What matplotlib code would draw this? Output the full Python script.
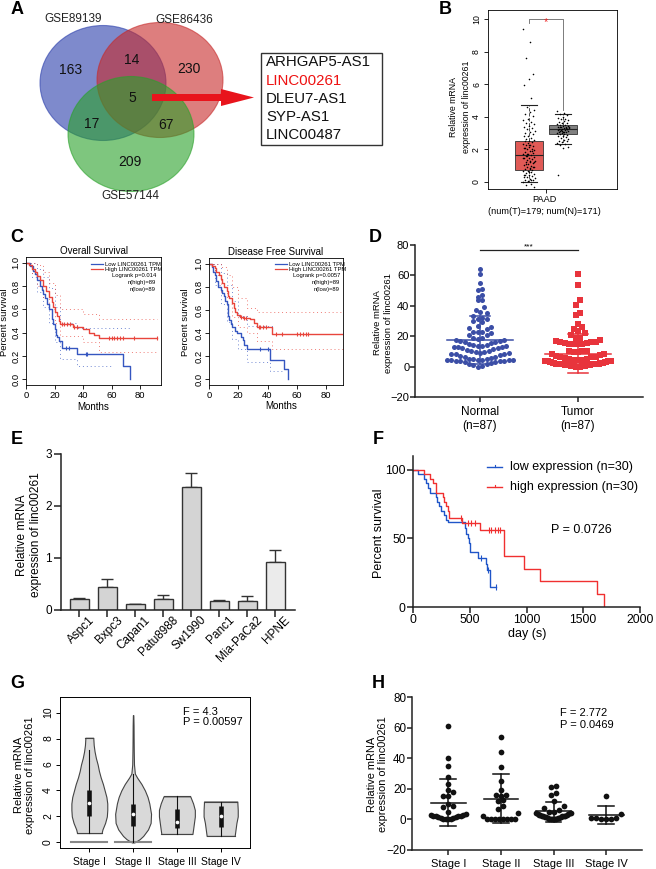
import numpy as np
import matplotlib
matplotlib.use('Agg')
import matplotlib.pyplot as plt
from matplotlib.patches import Ellipse, Rectangle, FancyArrow
from matplotlib.transforms import ScaledTranslation

plt.rcParams['font.family'] = ['Liberation Sans', 'DejaVu Sans']

# ======================= DATA =======================
# A: Venn
venn_names = ['GSE89139', 'GSE86436', 'GSE57144']
venn_regions = ['only89139', '89139&86436', 'only86436', 'all', '89139&57144', '86436&57144', 'only57144']
venn_counts = [163, 14, 230, 5, 17, 67, 209]
common_genes = ['ARHGAP5-AS1', 'LINC00261', 'DLEU7-AS1', 'SYP-AS1', 'LINC00487']
highlight_gene = 'LINC00261'

# B: GEPIA box plot
b_groups = ['Tumor', 'Normal']
b_q1 = [0.75, 2.95]
b_med = [1.67, 3.25]
b_q3 = [2.5, 3.48]
b_whislo = [0.0, 2.32]
b_whishi = [4.75, 4.15]
b_tumor_pts = [9.4, 8.6, 7.65, 6.65, 6.35, 5.95, 5.15, 4.6, 4.45, 4.3, 4.2, 4.05, 3.9, 3.8, 3.7,
               3.6, 3.55, 3.45, 3.4, 3.3, 3.25, 3.15, 3.1, 3.0, 2.95, 2.85, 2.8, 2.7, 2.65, 2.6,
               2.55, 2.5, 2.45, 2.4, 2.35, 2.3, 2.25, 2.2, 2.15, 2.1, 2.05, 2.0, 1.95, 1.9, 1.85,
               1.8, 1.75, 1.7, 1.65, 1.6, 1.55, 1.5, 1.45, 1.4, 1.35, 1.3, 1.25, 1.2, 1.15, 1.1,
               1.05, 1.0, 0.95, 0.9, 0.85, 0.8, 0.75, 0.7, 0.65, 0.6, 0.55, 0.5, 0.45, 0.4, 0.35,
               0.3, 0.25, 0.2, 0.15, 0.1, 0.05, 0.0, -0.1, -0.2, -0.3, 2.3, 2.1, 1.9, 1.7, 1.5,
               1.3, 1.1, 0.9, 0.6, 0.3, 0.1, 1.6, 1.2, 0.8, 0.4]
b_normal_pts = [4.35, 4.25, 4.15, 4.1, 4.0, 3.95, 3.9, 3.85, 3.8, 3.75, 3.7, 3.65, 3.6, 3.55,
                3.5, 3.48, 3.45, 3.42, 3.4, 3.37, 3.35, 3.32, 3.3, 3.28, 3.25, 3.23, 3.2, 3.18,
                3.15, 3.12, 3.1, 3.07, 3.05, 3.02, 3.0, 2.97, 2.95, 2.9, 2.85, 2.8, 2.75, 2.7,
                2.65, 2.6, 2.55, 2.5, 2.45, 2.4, 2.35, 2.3, 2.15, 2.1, 0.4, 3.3, 3.2, 3.4, 3.1,
                3.35, 3.25, 3.15]
b_sig = '*'

# C: GEPIA Kaplan-Meier (OS and DFS)
os_low_t = [0, 3, 5, 6, 8, 10, 11, 12, 13, 15, 16, 18, 19, 20, 21, 22, 23, 25, 36, 68, 73]
os_low_s = [1.0, 0.97, 0.93, 0.9, 0.85, 0.8, 0.77, 0.73, 0.7, 0.65, 0.6, 0.52, 0.47, 0.43, 0.38, 0.36, 0.33, 0.27, 0.22, 0.11, 0.0]
os_low_cens_t = [28, 30, 42, 43]
os_low_cens_s = [0.27, 0.27, 0.22, 0.22]
os_high_t = [0, 2, 4, 6, 8, 10, 12, 14, 16, 18, 19, 20, 22, 23, 24, 33, 40, 44, 48, 51]
os_high_s = [1.0, 0.98, 0.95, 0.92, 0.89, 0.85, 0.8, 0.76, 0.71, 0.66, 0.62, 0.58, 0.54, 0.5, 0.47, 0.45, 0.43, 0.40, 0.38, 0.35]
os_high_end = 92
os_high_cens_t = [25, 27, 29, 31, 34, 36, 58, 60, 62, 64, 66, 68, 76, 92]
os_high_cens_s = [0.47, 0.47, 0.47, 0.47, 0.45, 0.45, 0.35, 0.35, 0.35, 0.35, 0.35, 0.35, 0.35, 0.35]
os_low_up_t = [0, 4, 8, 12, 16, 20, 24, 36]
os_low_up_s = [1.0, 1.0, 0.95, 0.88, 0.78, 0.62, 0.48, 0.44]
os_low_up_end = 73
os_low_lo_t = [0, 4, 8, 12, 16, 20, 24, 36]
os_low_lo_s = [1.0, 0.88, 0.75, 0.62, 0.48, 0.32, 0.17, 0.11]
os_low_lo_end = 60
os_high_up_t = [0, 4, 8, 12, 16, 20, 24, 40, 51]
os_high_up_s = [1.0, 1.0, 0.98, 0.92, 0.83, 0.72, 0.6, 0.56, 0.52]
os_high_lo_t = [0, 4, 8, 12, 16, 20, 24, 40, 51]
os_high_lo_s = [1.0, 0.9, 0.8, 0.7, 0.6, 0.48, 0.37, 0.32, 0.23]
os_legend = ['Low LINC00261 TPM', 'High LINC00261 TPM']
os_stats = ['Logrank p=0.014', 'n(high)=89', 'n(low)=89']

dfs_low_t = [0, 2, 3, 4, 5, 6, 8, 9, 10, 11, 12, 13, 14, 15, 16, 18, 19, 22, 23, 24, 26, 42, 51, 54]
dfs_low_s = [1.0, 0.97, 0.93, 0.9, 0.85, 0.8, 0.77, 0.75, 0.72, 0.68, 0.65, 0.55, 0.51, 0.48, 0.45, 0.42, 0.40, 0.37, 0.34, 0.30, 0.26, 0.17, 0.085, 0.0]
dfs_low_cens_t = [35, 40]
dfs_low_cens_s = [0.26, 0.26]
dfs_high_t = [0, 2, 4, 5, 7, 8, 9, 10, 12, 13, 14, 16, 17, 18, 19, 21, 23, 28, 31, 33, 43]
dfs_high_s = [1.0, 0.98, 0.96, 0.93, 0.9, 0.87, 0.83, 0.8, 0.76, 0.72, 0.7, 0.66, 0.62, 0.58, 0.56, 0.54, 0.53, 0.52, 0.49, 0.45, 0.39]
dfs_high_end = 92
dfs_high_cens_t = [22, 24, 25, 34, 35, 37, 39, 46, 50, 60, 62, 64, 66, 68, 92]
dfs_high_cens_s = [0.54, 0.53, 0.53, 0.45, 0.45, 0.45, 0.45, 0.39, 0.39, 0.39, 0.39, 0.39, 0.39, 0.39, 0.39]
dfs_low_up_t = [0, 4, 8, 12, 16, 20, 26, 42]
dfs_low_up_s = [1.0, 1.0, 0.92, 0.82, 0.68, 0.55, 0.46, 0.46]
dfs_low_up_end = 45
dfs_low_lo_t = [0, 4, 8, 12, 16, 20, 26, 42]
dfs_low_lo_s = [1.0, 0.82, 0.65, 0.5, 0.35, 0.26, 0.15, 0.07]
dfs_low_lo_end = 51
dfs_high_up_t = [0, 4, 8, 12, 16, 20, 26, 33]
dfs_high_up_s = [1.0, 1.0, 0.97, 0.9, 0.8, 0.7, 0.62, 0.58]
dfs_high_lo_t = [0, 4, 8, 12, 16, 20, 26, 33, 43]
dfs_high_lo_s = [1.0, 0.9, 0.75, 0.65, 0.54, 0.45, 0.4, 0.33, 0.26]
dfs_stats = ['Logrank p=0.0057', 'n(high)=89', 'n(low)=89']

# D: scatter Normal vs Tumor
d_groups = ['Normal\n(n=87)', 'Tumor\n(n=87)']
d_normal = [0, 0.5, 1, 1.5, 2, 2.5, 3, 3.2, 3.5, 3.7, 3.9, 4, 4.1, 4.2, 4.3, 4.4,
            4.5, 4.6, 4.8, 5, 5.2, 5.5, 6, 6.5, 7, 7.5, 8, 8.3, 8.6, 8.8,
            9, 9.3, 9.6, 10, 10.5, 11, 11.5, 12, 12.3, 12.6, 12.9, 13.1, 13.3,
            13.5, 13.8, 14, 14.5, 15, 15.5, 16, 16.5, 16.8, 17, 17.2, 17.5,
            18, 18.5, 19, 20.5, 21, 22, 22.5, 23, 23, 24.5, 25.5, 26, 27, 29.5, 30, 31, 31.5,
            32, 33, 35, 36, 37, 39, 43.5, 44, 46, 47, 50.5, 51, 55, 61, 64]
d_tumor = [61, 54, 44, 40.5, 35.5, 34, 28, 26, 25, 23.5, 22, 21, 19, 19, 17.5, 17, 16.5, 16, 16,
           15.5, 15.5, 15, 15, 15, 15, 10.5, 10, 10, 9.5, 9.5, 8.5, 8, 7.5, 7, 6.5, 6, 6, 5.5, 5, 5,
           4.5, 4.5, 4.5, 4, 4, 4, 3.5, 3.5, 3.5, 3, 3, 3, 3,
           2.5, 2.5, 2.5, 2.5, 2.5, 2, 2, 2, 2, 2, 2, 1.5, 1.5, 1.5, 1.5, 1.5, 1.5,
           1, 1, 1, 1, 1, 1, 1, 0.5, 0.5, 0.5, 0.5, 0.5, 0.5, 0, 0, 0, 0]
d_mean = [17.5, 8.5]
d_sd_hi = [33.4, 21.5]
d_sd_lo = [1.6, -4.5]
d_sig = '***'

# E: cell lines
e_cells = ['Aspc1', 'Bxpc3', 'Capan1', 'Patu8988', 'Sw1990', 'Panc1', 'Mia-PaCa2', 'HPNE']
e_vals = [0.21, 0.45, 0.11, 0.22, 2.37, 0.17, 0.17, 0.93]
e_err = [0.02, 0.15, 0.01, 0.07, 0.27, 0.02, 0.09, 0.22]

# F: KM (n=30 each)
f_low_t = [0, 45, 100, 118, 135, 150, 205, 215, 230, 250, 275, 295, 310, 455, 470, 485, 495, 505, 575, 640, 655, 675]
f_low_s = [100, 96.7, 93.3, 90, 86.7, 83.3, 80, 76.7, 73.3, 70, 66.7, 63.3, 61.7, 57.5, 53.5, 50, 46.7, 40, 35.5, 31, 26.7, 14.6]
f_low_end = 730
f_low_cens_t = [603, 662, 730]
f_low_cens_s = [35.5, 26.7, 14.6]
f_high_t = [0, 100, 150, 175, 200, 206, 265, 275, 290, 305, 320, 435, 588, 800, 976, 1118, 1624, 1682]
f_high_s = [100, 96.7, 93.3, 90, 86.7, 83.3, 80, 76.7, 73.3, 70, 64.8, 61, 55.8, 37.4, 27.9, 18.7, 9.3, 0]
f_high_cens_t = [426, 485, 515, 544, 670, 691, 720, 750, 770]
f_high_cens_s = [64.8, 61, 61, 61, 55.8, 55.8, 55.8, 55.8, 55.8]
f_legend = ['low expression (n=30)', 'high expression (n=30)']
f_p = 'P = 0.0726'

# G: violin by stage
g_stages = ['Stage I', 'Stage II', 'Stage III', 'Stage IV']
g_prof_y = [[0.72, 1.0, 1.5, 2.0, 2.5, 3.0, 3.5, 4.0, 4.5, 5.0, 5.5, 6.0, 6.5, 7.0, 7.5, 8.06],
            [0.0, 0.25, 0.5, 1.0, 1.5, 2.2, 3.0, 3.5, 4.0, 4.5, 4.8, 5.0, 5.3, 6.0, 7.0, 8.0, 9.0, 9.8],
            [0.65, 1.0, 1.5, 2.0, 2.5, 3.0, 3.55],
            [0.5, 1.0, 1.5, 2.0, 2.5, 3.15]]
g_prof_hw = [[0.28, 0.30, 0.36, 0.40, 0.41, 0.41, 0.39, 0.35, 0.31, 0.26, 0.22, 0.19, 0.15, 0.12, 0.10, 0.09],
             [0.03, 0.15, 0.23, 0.34, 0.40, 0.41, 0.37, 0.33, 0.27, 0.19, 0.13, 0.09, 0.04, 0.02, 0.015, 0.012, 0.01, 0.005],
             [0.355, 0.37, 0.39, 0.41, 0.41, 0.37, 0.305],
             [0.32, 0.34, 0.36, 0.39, 0.39, 0.38]]
g_q1 = [2.0, 1.3, 1.1, 1.2]
g_med = [3.0, 2.2, 1.6, 2.05]
g_q3 = [4.05, 2.95, 2.55, 2.8]
g_wlo = [0.72, 0.0, 0.65, 0.5]
g_whi = [7.1, 5.3, 3.55, 3.15]
g_zero_line = [True, True, False, False]
g_stats = ['F = 4.3', 'P = 0.00597']

# H: scatter by stage
h_stages = ['Stage I', 'Stage II', 'Stage III', 'Stage IV']
h_vals = [[61, 40, 35, 28, 23, 19, 18, 15, 15, 10, 9, 8, 5, 3.5, 3, 3, 2.5, 2.5, 2, 2, 1.5, 1.5, 1, 1, 0.5, 0.5, 0, 0],
          [54, 44, 34, 25, 19, 16, 16, 15, 13, 12, 9, 7, 4, 2, 0.5, 0, 0, 0, 0, 0, 0, 0],
          [22, 21, 17, 16, 12, 9, 7.5, 6, 5, 5, 4.5, 4, 4, 3.5, 3.5, 3, 3, 3, 2.5, 2.5, 2, 2, 2,
           1.5, 1.5, 1.5, 1, 1, 1, 0.5, 0.5, 0.5, 0, 0, 0],
          [15.5, 3.5, 1, 1, 1, 0.5, 0.5, 0]]
h_mean = [11, 13.6, 5.3, 2.9]
h_sd_hi = [26.4, 29.5, 11.6, 8.8]
h_sd_lo = [-4.2, -2.2, -1.8, -2.9]
h_stats = ['F = 2.772', 'P = 0.0469']

# ======================= FIGURE =======================
W, H = 656, 869
fig = plt.figure(figsize=(W / 100, H / 100), dpi=100)


def add_ax(x0, y0, x1, y1, **kw):
    return fig.add_axes([x0 / W, 1 - y1 / H, (x1 - x0) / W, (y1 - y0) / H], **kw)


ov = fig.add_axes([0, 0, 1, 1], zorder=20)
ov.set_xlim(0, W)
ov.set_ylim(H, 0)
ov.axis('off')


def T(x, y, s, **kw):
    kw.setdefault('ha', 'center')
    kw.setdefault('va', 'center')
    ov.text(x, y, s, **kw)


# panel letters
for lab, (x, y) in zip('ABCDEFGH', [(17, 10), (445, 10), (17, 237), (375, 237),
                                    (17, 439), (378, 439), (17, 683), (378, 683)]):
    T(x, y, lab, fontsize=13, fontweight='bold')

# ---------------- A ----------------
venn_cols = [(0.16, 0.24, 0.67), (0.78, 0.16, 0.16), (0.16, 0.63, 0.16)]
venn_geom = [(103, 83), (160, 80), (131, 134)]
for (cx, cy), c in zip(venn_geom, venn_cols):
    ov.add_patch(Ellipse((cx, cy), 126, 115, facecolor=c, alpha=0.6, edgecolor=c, lw=0.8))
for name, (x, y) in zip(venn_names, [(73, 19), (184, 20), (130, 196)]):
    T(x, y, name, fontsize=8.5, color='#222222')
for cnt, (x, y) in zip(venn_counts, [(71, 70), (132, 60), (189, 69), (132, 98),
                                     (92, 124), (166, 125), (130, 162)]):
    T(x, y, str(cnt), fontsize=10, color='#111111')
ov.add_patch(FancyArrow(152, 97.5, 102, 0, width=7, head_width=17, head_length=33,
                        length_includes_head=True, color='#e8141c', lw=0))
ov.add_patch(Rectangle((260.5, 53), 121, 92, fill=False, edgecolor='#333333', lw=1))
for i, g in enumerate(common_genes):
    T(266, 62.5 + i * 18.2, g, ha='left', fontsize=10.8,
      color='#ee1111' if g == highlight_gene else '#111111')

# ---------------- B ----------------
axB = add_ax(488, 10, 617, 189)
axB.set_xlim(-0.2, 3.59)
axB.set_ylim(-0.43, 10.57)
stats = [dict(med=m, q1=a, q3=b, whislo=lo, whishi=hi, fliers=[])
         for m, a, b, lo, hi in zip(b_med, b_q1, b_q3, b_whislo, b_whishi)]
bp = axB.bxp(stats, positions=[1, 2], widths=0.82, patch_artist=True, showfliers=False,
             capwidths=0.47,
             boxprops=dict(edgecolor='#333333', linewidth=0.6),
             whiskerprops=dict(linestyle=(0, (4, 2)), linewidth=0.6, color='#333333'),
             capprops=dict(linewidth=0.8, color='#222222'),
             medianprops=dict(color='#222222', linewidth=0.8))
for patch, c in zip(bp['boxes'], ['#e05a56', '#808080']):
    patch.set_facecolor(c)
for k, pts in enumerate([b_tumor_pts, b_normal_pts]):
    pts = np.asarray(pts)
    jit = ((np.arange(len(pts)) * 0.618034) % 1 - 0.5) * 0.36
    axB.scatter(k + 1 + jit, pts, s=1.3, color='black', lw=0, zorder=5)
axB.plot([1, 1, 2, 2], [9.75, 10, 10, 4.45], color='#666666', lw=0.6)
axB.text(1.5, 9.85, b_sig, color='#ee2222', fontsize=8, ha='center', va='center')
axB.set_yticks([0, 2, 4, 6, 8, 10])
axB.set_yticklabels(['0', '2', '4', '6', '8', '10'], rotation=90, va='center')
axB.set_xticks([1.5])
axB.set_xticklabels([''])
axB.tick_params(labelsize=6.3, length=3, width=0.6, pad=2)
for s in axB.spines.values():
    s.set_linewidth(0.6)
T(460, 107, 'Relative mRNA\nexpression of linc00261', rotation=90, fontsize=6.3, linespacing=1.5)
T(544, 200, 'PAAD', fontsize=6.6)
T(544, 211, '(num(T)=179; num(N)=171)', fontsize=6.6)


# ---------------- C ----------------
def steps(ax, t, s, end, **kw):
    t = list(t) + [end]
    s = list(s) + [s[-1]]
    ax.step(t, s, where='post', **kw)


def km_gepia(ax, title, low, high, ci, cens, xmax):
    ax.set_xlim(0, xmax)
    ax.set_ylim(-0.05, 1.05)
    blue, red = '#3556c0', '#e8453c'
    for (t, s, e), c in zip(ci, [blue, blue, red, red]):
        steps(ax, t, s, e, color=c, lw=0.7, ls=(0, (1, 3)), alpha=0.7)
    steps(ax, *low, color=blue, lw=1.0)
    steps(ax, *high, color=red, lw=1.0)
    ax.plot(cens[0], cens[1], '|', color=blue, ms=3.5, mew=0.8)
    ax.plot(cens[2], cens[3], '|', color=red, ms=3.5, mew=0.8)
    ax.set_xticks([0, 20, 40, 60, 80])
    ax.set_yticks([0, 0.2, 0.4, 0.6, 0.8, 1.0])
    ax.set_yticklabels(['0.0', '0.2', '0.4', '0.6', '0.8', '1.0'], rotation=90, va='center')
    ax.tick_params(labelsize=6.8, length=3, width=0.6, pad=1.5)
    ax.tick_params(axis='y', pad=1)
    for s in ax.spines.values():
        s.set_linewidth(0.6)
    ax.set_title(title, fontsize=7, pad=2)


axC1 = add_ax(26, 257, 161, 385)
km_gepia(axC1, 'Overall Survival',
         (os_low_t, os_low_s, os_low_t[-1]), (os_high_t, os_high_s, os_high_end),
         [(os_low_up_t, os_low_up_s, os_low_up_end), (os_low_lo_t, os_low_lo_s, os_low_lo_end),
          (os_high_up_t, os_high_up_s, os_high_end), (os_high_lo_t, os_high_lo_s, os_high_end)],
         (os_low_cens_t, os_low_cens_s, os_high_cens_t, os_high_cens_s), 94.7)
axC2 = add_ax(209, 258, 343, 385)
km_gepia(axC2, 'Disease Free Survival',
         (dfs_low_t, dfs_low_s, dfs_low_t[-1]), (dfs_high_t, dfs_high_s, dfs_high_end),
         [(dfs_low_up_t, dfs_low_up_s, dfs_low_up_end), (dfs_low_lo_t, dfs_low_lo_s, dfs_low_lo_end),
          (dfs_high_up_t, dfs_high_up_s, dfs_high_end), (dfs_high_lo_t, dfs_high_lo_s, dfs_high_end)],
         (dfs_low_cens_t, dfs_low_cens_s, dfs_high_cens_t, dfs_high_cens_s), 91.6)
for x0, xr, st in [(91, 156, os_stats), (275, 340, dfs_stats)]:
    for i, (lab, c) in enumerate(zip(os_legend, ['#3556c0', '#e8453c'])):
        y = 264 + i * 5.2
        ov.plot([x0, x0 + 12], [y, y], color=c, lw=0.9)
        T(x0 + 14, y, lab, ha='left', fontsize=4.2)
    for i, s in enumerate(st):
        T(xr, 276 + i * 6.5, s, ha='right', fontsize=4.2)
T(4.5, 322, 'Percent survival', rotation=90, fontsize=6.8)
T(186, 322, 'Percent survival', rotation=90, fontsize=6.8)
T(93, 407, 'Months', fontsize=7)
T(281, 406, 'Months', fontsize=7)


# ---------------- helpers for GraphPad style ----------------
def gp(ax, fs, length=3.5, pad=1.5):
    for s in ['top', 'right']:
        ax.spines[s].set_visible(False)
    for s in ['left', 'bottom']:
        ax.spines[s].set_linewidth(1.1)
        ax.spines[s].set_color('#222222')
    ax.tick_params(direction='out', length=length, width=1.1, labelsize=fs, pad=pad, color='#222222')


def binned_offsets(vals, ypx, binh, diam, maxhalf, xpx):
    """GraphPad-like scatter: points in the same vertical bin are spread sideways,
    lowest values at the centre, compressed when the row gets too wide."""
    vals = np.asarray(vals, dtype=float)
    bins = np.floor(vals * ypx / binh + 1e-9).astype(int)
    offs = np.zeros(len(vals))
    for b in np.unique(bins):
        idx = np.where(bins == b)[0]
        idx = idx[np.argsort(vals[idx], kind='stable')]
        n = len(idx)
        pitch = diam if n <= 1 else min(diam, 2 * maxhalf / (n - 1))
        slots = (np.arange(n) - (n - 1) / 2) * pitch
        slots = slots[np.argsort(np.abs(slots) + 1e-6 * np.sign(slots), kind='stable')]
        offs[idx] = slots / xpx
    return offs


# ---------------- D ----------------
axD = add_ax(415, 245, 643, 397)
axD.set_xlim(-0.663, 1.663)
axD.set_ylim(-20, 80)
gp(axD, 8, length=3.3, pad=0.8)
d_cols = ['#3b4ea6', '#e8343c']
for k, (vals, mk, c) in enumerate(zip([d_normal, d_tumor], ['o', 's'], d_cols)):
    off = binned_offsets(vals, 1.517, 6.8, 4.4, 33, 98)
    axD.scatter(k + off, vals, s=13, marker=mk, color=c, lw=0, zorder=3)
    axD.plot([k - 0.34, k + 0.34], [d_mean[k], d_mean[k]], color=c, lw=1.1, zorder=4)
    axD.plot([k, k], [d_sd_lo[k], d_sd_hi[k]], color=c, lw=1.1, zorder=4)
    for v in [d_sd_lo[k], d_sd_hi[k]]:
        axD.plot([k - 0.1, k + 0.1], [v, v], color=c, lw=1.1, zorder=4)
axD.set_xticks([0, 1])
axD.set_xticklabels(d_groups, fontsize=8.5, linespacing=1.2)
axD.set_yticks([-20, 0, 20, 40, 60, 80])
axD.plot([0, 1], [76.7, 76.7], color='#222222', lw=0.9, clip_on=False)
axD.text(0.5, 78.5, d_sig, fontsize=6, ha='center', va='center')
axD.tick_params(axis='x', pad=3)
T(383, 323, 'Relative mRNA\nexpression of linc00261', rotation=90, fontsize=6.8, linespacing=1.15)

# ---------------- E ----------------
axE = add_ax(61, 454, 295, 610)
axE.set_xlim(-0.66, 7.71)
axE.set_ylim(0, 3)
gp(axE, 8.5, length=5, pad=1.5)
xE = np.arange(len(e_cells))
cols = ['#d4d4d4'] * 7 + ['#ebebeb']
axE.bar(xE, e_vals, width=0.68, color=cols, edgecolor='#333333', lw=1.0, zorder=2)
axE.errorbar(xE, e_vals, yerr=[np.zeros(len(e_err)), e_err], fmt='none', ecolor='#333333',
             elinewidth=1.0, capsize=4, capthick=1.0, zorder=1)
axE.set_yticks([0, 1, 2, 3])
axE.set_xticks(xE)
axE.set_xticklabels(e_cells, rotation=45, ha='right', va='top', rotation_mode='anchor', fontsize=8.5)
shift = ScaledTranslation(9 / 100, 5 / 100, fig.dpi_scale_trans)
for lbl in axE.get_xticklabels():
    lbl.set_transform(lbl.get_transform() + shift)
T(29, 535, 'Relative mRNA\nexpression of linc00261', rotation=90, fontsize=8.6, linespacing=1.3)

# ---------------- F ----------------
axF = add_ax(413, 456, 640, 607)
axF.set_xlim(0, 2000)
axF.set_ylim(0, 110)
gp(axF, 8.8, length=4, pad=1.2)
fb, fr = '#1f55c8', '#f03030'
steps(axF, f_low_t, f_low_s, f_low_end, color=fb, lw=1.0)
steps(axF, f_high_t, f_high_s, f_high_t[-1], color=fr, lw=1.0)
axF.plot(f_low_cens_t, f_low_cens_s, '|', color=fb, ms=4, mew=0.8)
axF.plot(f_high_cens_t, f_high_cens_s, '|', color=fr, ms=4, mew=0.8)
axF.set_xticks([0, 500, 1000, 1500, 2000])
axF.set_yticks([0, 50, 100])
for i, (lab, c) in enumerate(zip(f_legend, [fb, fr])):
    y = 467 + i * 20
    ov.plot([487, 502], [y, y], color=c, lw=1.0)
    ov.plot([494.5, 494.5], [y, y - 2.5], color=c, lw=0.8)
    T(510, y, lab, ha='left', fontsize=9)
T(551, 530, f_p, ha='left', fontsize=9)
T(379, 533, 'Percent survival', rotation=90, fontsize=9)
T(527, 634, 'day (s)', fontsize=9)

# ---------------- G ----------------
axG = add_ax(60, 697, 250, 848)
axG.set_xlim(0.33, 4.67)
axG.set_ylim(-0.43, 11.2)
for k in range(4):
    pos = k + 1
    y = np.asarray(g_prof_y[k])
    hw = np.asarray(g_prof_hw[k])
    axG.fill_betweenx(y, pos - hw, pos + hw, facecolor='#d9d9d9', edgecolor='#444444', lw=0.8, zorder=2)
    axG.plot([pos - hw[0], pos + hw[0]], [y[0], y[0]], color='#444444', lw=0.8, zorder=2)
    axG.plot([pos - hw[-1], pos + hw[-1]], [y[-1], y[-1]], color='#444444', lw=0.8, zorder=2)
    if g_zero_line[k]:
        axG.plot([pos - 0.41, pos + 0.41], [0, 0], color='#888888', lw=1.5, zorder=2)
    axG.plot([pos, pos], [g_wlo[k], g_whi[k]], color='#111111', lw=0.8, zorder=3)
    axG.plot([pos, pos], [g_q1[k], g_q3[k]], color='#111111', lw=3.3, zorder=3, solid_capstyle='butt')
    axG.scatter([pos], [g_med[k]], s=7, color='white', zorder=4, lw=0)
axG.set_xticks([1, 2, 3, 4])
axG.set_xticklabels(g_stages)
axG.set_yticks([0, 2, 4, 6, 8, 10])
axG.set_yticklabels(['0', '2', '4', '6', '8', '10'], rotation=90, va='center')
axG.tick_params(labelsize=7.5, length=3, width=0.7, pad=2)
axG.tick_params(axis='x', pad=3.5)
for s in axG.spines.values():
    s.set_linewidth(0.7)
T(183, 711.7, g_stats[0], ha='left', fontsize=8)
T(183, 721.7, g_stats[1], ha='left', fontsize=8)
T(24.5, 775, 'Relative mRNA\nexpression of linc00261', rotation=90, fontsize=8, linespacing=1.2)

# ---------------- H ----------------
axH = add_ax(412, 697, 642, 850)
axH.set_xlim(0.31, 4.68)
axH.set_ylim(-20, 80)
gp(axH, 8.4, length=3.3, pad=1)
for k in range(4):
    pos = k + 1
    off = binned_offsets(h_vals[k], 1.527, 6.9, 5.0, 17.5, 52.6)
    axH.scatter(pos + off, h_vals[k], s=17, color='#111111', lw=0, zorder=3)
    axH.plot([pos - 0.33, pos + 0.33], [h_mean[k], h_mean[k]], color='#111111', lw=1.1, zorder=4)
    axH.plot([pos, pos], [h_sd_lo[k], h_sd_hi[k]], color='#111111', lw=1.1, zorder=4)
    for v in [h_sd_lo[k], h_sd_hi[k]]:
        axH.plot([pos - 0.15, pos + 0.15], [v, v], color='#111111', lw=1.1, zorder=4)
axH.set_xticks([1, 2, 3, 4])
axH.set_xticklabels(h_stages, fontsize=8)
axH.tick_params(axis='x', pad=3)
axH.set_yticks([-20, 0, 20, 40, 60, 80])
T(560, 712.7, h_stats[0], ha='left', fontsize=8)
T(560, 725, h_stats[1], ha='left', fontsize=8)
T(377.5, 774, 'Relative mRNA\nexpression of linc00261', rotation=90, fontsize=7.9, linespacing=1.2)

fig.savefig('out.png', dpi=100)
